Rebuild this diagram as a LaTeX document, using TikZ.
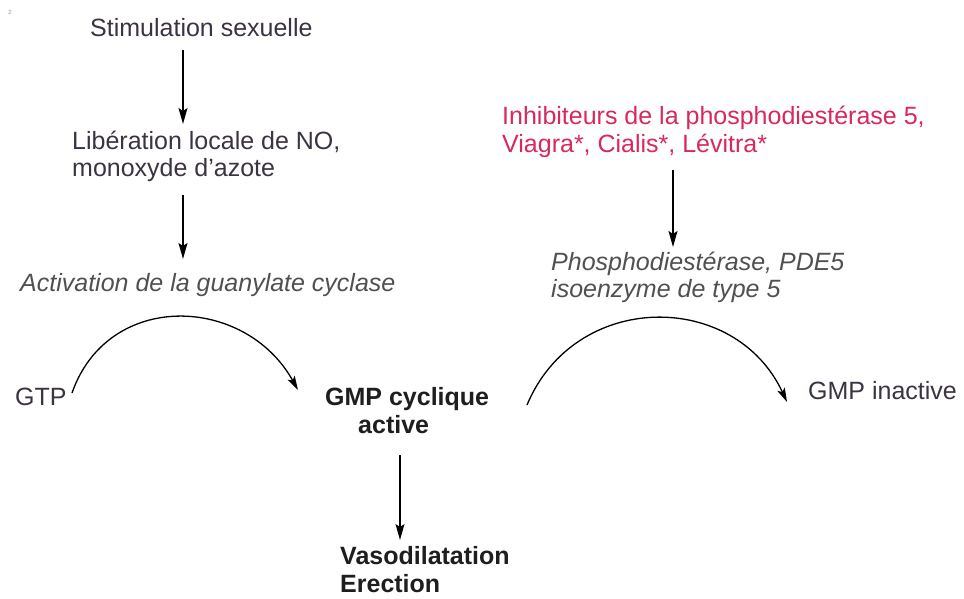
\documentclass[tikz,border=0pt]{standalone}
\usepackage{fontspec}
\setmainfont{Liberation Sans}
\usetikzlibrary{arrows.meta}
\definecolor{txtdark}{HTML}{3B3244}
\definecolor{txtgray}{HTML}{505050}
\definecolor{txtred}{HTML}{D8285E}
\definecolor{txtblack}{HTML}{1E1E1E}
\tikzset{
  lbl/.style={inner sep=0pt, anchor=base west, align=left, font=\fontsize{25}{28}\selectfont},
  arr/.style={line width=1.6pt, -{Stealth[length=16pt,width=9pt,inset=3pt]}},
  arcarr/.style={line width=1.3pt, -{Stealth[length=14pt,width=8pt,inset=3pt]}}
}
\begin{document}
\begin{tikzpicture}[x=1pt,y=-1pt]
\useasboundingbox (0,0) rectangle (964,599);
\node[inner sep=0pt, text=black!40, font=\fontsize{6}{6}\selectfont] (mark) at (10,12) {2};
\node[lbl, text=txtdark] (stim) at (90,37) {Stimulation sexuelle};
\node[lbl, text=txtdark] (lib) at (72,177) {Libération locale de NO,\\monoxyde d'azote};
\node[lbl, text=txtgray, font=\fontsize{25}{28}\selectfont\itshape] (act) at (20,291) {Activation de la guanylate cyclase};
\node[lbl, text=txtdark] (gtp) at (15,405) {GTP};
\node[lbl, text=txtblack, font=\fontsize{25}{28}\selectfont\bfseries] (gmpc) at (325,433) {GMP cyclique\\\hspace*{33pt}active};
\node[lbl, text=txtblack, font=\fontsize{25}{28}\selectfont\bfseries] (vaso) at (340,592) {Vasodilatation\\Erection};
\node[lbl, text=txtred] (inh) at (502,153) {Inhibiteurs de la phosphodiestérase 5,\\Viagra*, Cialis*, Lévitra*};
\node[lbl, text=txtgray, font=\fontsize{25}{27}\selectfont\itshape] (pde) at (551,297) {Phosphodiestérase, PDE5\\isoenzyme de type 5};
\node[lbl, text=txtdark] (gmpi) at (808,399) {GMP inactive};
% straight arrows
\coordinate (a1s) at (183,50);  \coordinate (a1e) at (183,124);
\coordinate (a2s) at (183,195); \coordinate (a2e) at (183,259);
\coordinate (a3s) at (400,455); \coordinate (a3e) at (400,540);
\coordinate (a4s) at (673,170); \coordinate (a4e) at (673,247);
\draw[arr] (a1s) -- (a1e);
\draw[arr] (a2s) -- (a2e);
\draw[arr] (a3s) -- (a3e);
\draw[arr] (a4s) -- (a4e);
% arcs
\coordinate (c1s) at (72,393); \coordinate (c1e) at (298,390);
\coordinate (c2s) at (527,405); \coordinate (c2e) at (787,402);
\draw[arcarr] (c1s) .. controls (108,290) and (245,295) .. (c1e);
\draw[arcarr] (c2s) .. controls (575,290) and (735,290) .. (c2e);
\end{tikzpicture}
\end{document}
